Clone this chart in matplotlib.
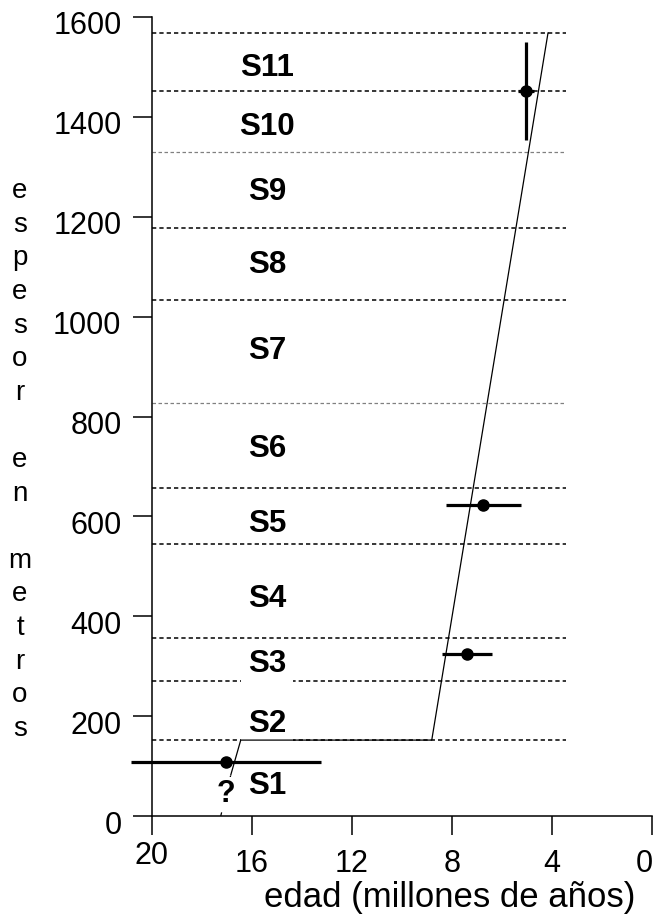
import matplotlib
matplotlib.use("Agg")
import matplotlib.pyplot as plt
import matplotlib.transforms as mtransforms

plt.rcParams['font.family'] = ['Liberation Sans', 'DejaVu Sans']

# ---- data ----
boundaries = [152, 270, 356, 545, 657, 827, 1033, 1177, 1330, 1452, 1568]
boundary_gray = [False, False, False, False, False, True, False, False, True, False, False]
unit_labels = ['S1', 'S2', 'S3', 'S4', 'S5', 'S6', 'S7', 'S8', 'S9', 'S10', 'S11']
unit_label_y = [60, 184, 304, 435, 585, 735, 931, 1103, 1250, 1380, 1498]
unit_label_masked = [False, True, True, False, False, False, False, False, False, False, False]
unit_label_x = 15.4
boundary_x = [20, 3.45]

# age model (edad, espesor)
model_age = [16.85, 16.45, 8.81, 4.16]
model_thk = [82, 152, 152, 1568]
model_age_uncertain = [17.25, 16.85]
model_thk_uncertain = [0, 82]

# dated samples
pt_age = [17.04, 7.41, 6.75, 5.05]
pt_thk = [108, 325, 623, 1452]
pt_age_err = [3.8, 1.0, 1.5, 0.33]
pt_thk_err = [0, 0, 0, 98]

xticks = [20, 16, 12, 8, 4, 0]
yticks = [0, 200, 400, 600, 800, 1000, 1200, 1400, 1600]

W, H = 655, 917
fig = plt.figure(figsize=(W / 100, H / 100), dpi=100)
ax = fig.add_axes([152 / W, (H - 816) / H, 500 / W, 799 / H])
ax.set_xlim(20, 0)
ax.set_ylim(0, 1600)

for sp in ['top', 'right']:
    ax.spines[sp].set_visible(False)
for sp in ['left', 'bottom']:
    ax.spines[sp].set_linewidth(1.1)

ax.set_xticks(xticks)
ax.set_yticks(yticks)
ax.tick_params(axis='both', direction='out', length=14, width=1.1, labelsize=22)
ax.tick_params(axis='y', pad=8)
ax.tick_params(axis='x', pad=10)

# boundaries
for b, g in zip(boundaries, boundary_gray):
    ax.plot(boundary_x, [b, b], color='#808080' if g else 'black',
            lw=0.9 if g else 1.1, linestyle=(0, (2.8, 2.0)), zorder=1)

# labels
for lab, y, m in zip(unit_labels, unit_label_y, unit_label_masked):
    kw = {}
    if m:
        kw['bbox'] = dict(boxstyle='square,pad=0.22', fc='white', ec='none')
    ax.text(unit_label_x, y, lab, fontsize=22.5, fontweight='bold', ha='center',
            va='center', zorder=2, **kw)

# age model
ax.plot(model_age_uncertain, model_thk_uncertain, color='black', lw=0.9,
        linestyle=(0, (3, 3)), zorder=3, clip_on=False)
ax.plot(model_age, model_thk, color='black', lw=0.9, zorder=3)
ax.text(17.04, 44, '?', fontsize=22, fontweight='bold', ha='center', va='center',
        zorder=3.5, bbox=dict(boxstyle='square,pad=0.05', fc='white', ec='none'))

# samples
ax.errorbar(pt_age, pt_thk, xerr=pt_age_err, yerr=pt_thk_err, fmt='o',
            color='black', ms=8, elinewidth=2.3, capsize=0, zorder=4,
            clip_on=False)

# tick label offsets
for t in ax.yaxis.get_major_ticks():
    t.label1.set_transform(t.label1.get_transform() +
                           mtransforms.ScaledTranslation(0, -6 / 100, fig.dpi_scale_trans))
xt = ax.xaxis.get_major_ticks()
xt[0].label1.set_transform(xt[0].label1.get_transform() +
                           mtransforms.ScaledTranslation(0, 8 / 100, fig.dpi_scale_trans))
xt[-1].label1.set_transform(xt[-1].label1.get_transform() +
                            mtransforms.ScaledTranslation(-8 / 100, 0, fig.dpi_scale_trans))

fig.text(450 / W, 1 - 897 / H, 'edad (millones de años)', fontsize=25,
         ha='center', va='center')

ylab = '\n'.join(list('espesor')) + '\n\n' + '\n'.join(list('en')) + '\n\n' + '\n'.join(list('metros'))
fig.text(20 / W, 1 - 460 / H, ylab, fontsize=20, ha='center', va='center',
         linespacing=1.38)

fig.savefig('out.png', dpi=100)
